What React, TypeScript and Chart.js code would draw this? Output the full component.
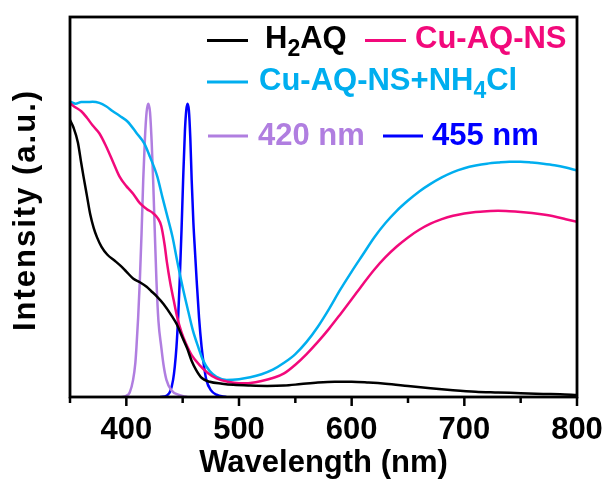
import React, { useEffect, useRef } from "react";
import { Chart, registerables } from "chart.js";

Chart.register(...registerables);

const FONT = "'Liberation Sans', Arial, Helvetica, sans-serif";

// ---- data ----
const xLabeled = [400, 500, 600, 700, 800];

const h2aqWl = [350, 353, 357, 360, 362, 365, 368, 371, 374, 378, 383, 390, 395, 400, 406, 412, 418, 422, 427, 433, 440, 445, 450, 454, 458, 462, 467, 474, 485, 495, 510, 525, 540, 555, 570, 585, 600, 615, 630, 650, 670, 690, 710, 730, 750, 770, 785, 800];
const h2aqI = [0.729, 0.71, 0.67, 0.615, 0.58, 0.53, 0.48, 0.445, 0.42, 0.395, 0.375, 0.358, 0.345, 0.33, 0.312, 0.302, 0.29, 0.279, 0.265, 0.245, 0.215, 0.19, 0.155, 0.128, 0.095, 0.071, 0.05, 0.04, 0.035, 0.032, 0.03, 0.029, 0.03, 0.034, 0.038, 0.04, 0.04, 0.038, 0.035, 0.029, 0.023, 0.018, 0.014, 0.012, 0.01, 0.008, 0.007, 0.005];

const cuWl = [350, 355, 360, 365, 370, 376, 382, 388, 394, 400, 403, 406, 412, 418, 424, 428, 431, 434, 436, 439, 442, 445, 449, 453, 458, 465, 472, 480, 490, 500, 510, 520, 530, 540, 550, 560, 570, 580, 590, 600, 610, 620, 630, 640, 650, 660, 670, 680, 690, 700, 710, 720, 730, 740, 750, 760, 770, 780, 790, 800];
const cuI = [0.773, 0.762, 0.752, 0.735, 0.715, 0.694, 0.66, 0.62, 0.58, 0.555, 0.545, 0.535, 0.51, 0.495, 0.483, 0.47, 0.45, 0.4, 0.355, 0.3, 0.255, 0.212, 0.17, 0.14, 0.11, 0.084, 0.064, 0.049, 0.04, 0.036, 0.037, 0.042, 0.05, 0.062, 0.085, 0.113, 0.145, 0.18, 0.218, 0.257, 0.297, 0.335, 0.368, 0.396, 0.42, 0.44, 0.456, 0.468, 0.477, 0.483, 0.487, 0.489, 0.49, 0.489, 0.487, 0.484, 0.48, 0.475, 0.468, 0.461];

const nh4Wl = [350, 355, 360, 365, 370, 376, 382, 388, 394, 401, 409, 416, 421, 427.5, 432, 436, 441, 445, 450, 455, 459, 464, 468, 474, 480, 489, 500, 510, 520, 530, 540, 550, 560, 570, 580, 590, 600, 610, 620, 630, 640, 650, 660, 670, 680, 690, 700, 710, 720, 730, 740, 750, 760, 770, 780, 790, 800];
const nh4I = [0.777, 0.772, 0.776, 0.776, 0.777, 0.774, 0.765, 0.752, 0.74, 0.725, 0.695, 0.667, 0.632, 0.58, 0.526, 0.48, 0.421, 0.36, 0.289, 0.225, 0.176, 0.13, 0.097, 0.068, 0.053, 0.045, 0.047, 0.052, 0.06, 0.072, 0.09, 0.113, 0.145, 0.185, 0.232, 0.283, 0.33, 0.375, 0.42, 0.458, 0.49, 0.517, 0.541, 0.561, 0.578, 0.592, 0.602, 0.609, 0.614, 0.617, 0.619, 0.619, 0.617, 0.614, 0.61, 0.604, 0.596];

const led420Wl = [396, 400, 403, 406, 408, 409, 410.5, 412, 413.5, 415, 416.5, 418, 419.5, 421, 422.5, 423.8, 425.2, 426.7, 428.5, 431, 433, 435.6, 440, 446, 454];
const led420I = [0, 0.003, 0.012, 0.045, 0.09, 0.132, 0.21, 0.308, 0.43, 0.571, 0.68, 0.75, 0.772, 0.75, 0.67, 0.571, 0.44, 0.308, 0.2, 0.132, 0.085, 0.045, 0.018, 0.006, 0];

const led455Wl = [430, 436, 439, 441.5, 443, 444.5, 446, 447.4, 449, 450.4, 452, 453.2, 454.3, 455.5, 456.8, 458, 459.5, 461, 462.4, 464.5, 466.8, 469, 471, 475, 480, 488.8];
const led455I = [0, 0.004, 0.015, 0.045, 0.08, 0.132, 0.21, 0.308, 0.44, 0.571, 0.7, 0.755, 0.772, 0.755, 0.68, 0.571, 0.46, 0.38, 0.308, 0.21, 0.132, 0.08, 0.045, 0.018, 0.006, 0];

const COLORS = {
  h2aq: "#000000",
  cu: "#F2097B",
  nh4: "#00AEEF",
  l420: "#B07EE0",
  l455: "#0000FF",
};

const pts = (xs: number[], ys: number[]) => xs.map((x, i) => ({ x, y: ys[i] }));

type Part = { t: string; sub?: boolean };

function drawEntry(
  ctx: CanvasRenderingContext2D,
  lx1: number,
  lx2: number,
  ly: number,
  color: string,
  tx: number,
  base: number,
  parts: Part[]
) {
  ctx.save();
  ctx.strokeStyle = color;
  ctx.lineWidth = 3;
  ctx.beginPath();
  ctx.moveTo(lx1, ly);
  ctx.lineTo(lx2, ly);
  ctx.stroke();
  ctx.fillStyle = color;
  ctx.textBaseline = "alphabetic";
  ctx.textAlign = "left";
  let x = tx;
  for (const p of parts) {
    ctx.font = p.sub ? `bold 23px ${FONT}` : `bold 31px ${FONT}`;
    const y = p.sub ? base + 8 : base;
    ctx.fillText(p.t, x, y);
    x += ctx.measureText(p.t).width;
  }
  ctx.restore();
}

const decorPlugin = {
  id: "decor",
  afterDraw(chart: any) {
    const { ctx, chartArea } = chart;
    const { left, right, top, bottom } = chartArea;
    const xs = chart.scales.x;
    ctx.save();
    // ticks
    ctx.strokeStyle = "#000";
    ctx.lineWidth = 2.5;
    for (const t of xs.ticks) {
      const px = xs.getPixelForValue(t.value);
      const len = xLabeled.includes(t.value) ? 9 : 6;
      ctx.beginPath();
      ctx.moveTo(px, bottom);
      ctx.lineTo(px, bottom + len);
      ctx.stroke();
    }
    // frame
    ctx.lineWidth = 2.8;
    ctx.strokeRect(left, top, right - left, bottom - top);
    // y title
    ctx.fillStyle = "#000";
    ctx.font = `bold 31px ${FONT}`;
    (ctx as any).letterSpacing = "2px";
    ctx.textAlign = "center";
    ctx.textBaseline = "middle";
    ctx.translate(26, (top + bottom) / 2 + 3);
    ctx.rotate(-Math.PI / 2);
    ctx.fillText("Intensity (a.u.)", 0, 0);
    ctx.restore();

    // legend
    drawEntry(ctx, 207, 248, 40.5, COLORS.h2aq, 265, 48, [{ t: "H" }, { t: "2", sub: true }, { t: "AQ" }]);
    drawEntry(ctx, 365, 406, 40.5, COLORS.cu, 415, 48, [{ t: "Cu-AQ-NS" }]);
    drawEntry(ctx, 207, 248, 82, COLORS.nh4, 259, 90, [{ t: "Cu-AQ-NS+NH" }, { t: "4", sub: true }, { t: "Cl" }]);
    drawEntry(ctx, 208, 248, 136, COLORS.l420, 258, 145, [{ t: "420 nm" }]);
    drawEntry(ctx, 383, 423, 136, COLORS.l455, 432, 145, [{ t: "455 nm" }]);
  },
};

export default function App() {
  const ref = useRef<HTMLCanvasElement | null>(null);
  useEffect(() => {
    if (!ref.current) return;
    const mk = (label: string, xs: number[], ys: number[], color: string) => ({
      label,
      data: pts(xs, ys),
      borderColor: color,
      backgroundColor: color,
      borderWidth: 2.5,
      pointRadius: 0,
      fill: false,
      cubicInterpolationMode: "monotone" as const,
    });
    const chart = new Chart(ref.current, {
      type: "line",
      data: {
        datasets: [
          mk("H2AQ", h2aqWl, h2aqI, COLORS.h2aq),
          mk("Cu-AQ-NS", cuWl, cuI, COLORS.cu),
          mk("Cu-AQ-NS+NH4Cl", nh4Wl, nh4I, COLORS.nh4),
          mk("420 nm", led420Wl, led420I, COLORS.l420),
          mk("455 nm", led455Wl, led455I, COLORS.l455),
        ],
      },
      options: {
        responsive: false,
        animation: false,
        devicePixelRatio: 1,
        layout: { padding: { left: 70, right: 33, top: 17, bottom: 0 } },
        plugins: { legend: { display: false }, tooltip: { enabled: false } },
        scales: {
          x: {
            type: "linear",
            min: 350,
            max: 800,
            afterFit: (s: any) => {
              s.height = 85;
              s.paddingLeft = 0;
              s.paddingRight = 0;
            },
            ticks: {
              stepSize: 50,
              autoSkip: false,
              maxRotation: 0,
              padding: 7,
              color: "#000",
              font: { family: FONT, size: 31, weight: "bold" },
              callback: (v: any) => (xLabeled.includes(Number(v)) ? String(v) : ""),
            },
            grid: { display: false },
            border: { display: false },
            title: {
              display: true,
              text: "Wavelength (nm)",
              color: "#000",
              font: { family: FONT, size: 31, weight: "bold" },
              padding: { top: 0, bottom: 0 },
            },
          },
          y: { display: false, min: 0, max: 1 },
        },
      } as any,
      plugins: [decorPlugin],
    });
    return () => chart.destroy();
  }, []);
  return (
    <div style={{ position: "fixed", left: 0, top: 0, width: 610, height: 482, background: "#fff" }}>
      <canvas ref={ref} width={610} height={482} style={{ display: "block" }} />
    </div>
  );
}
